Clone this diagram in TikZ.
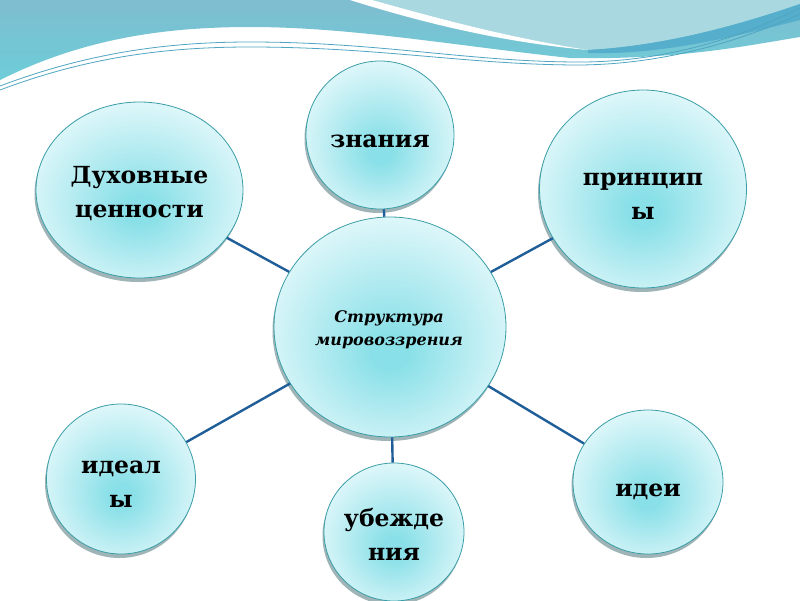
\documentclass[tikz,border=0pt]{standalone}
\usepackage{fontspec}
\setmainfont{DejaVu Serif}
\usetikzlibrary{shapes.geometric,shadows}
\definecolor{ballc}{HTML}{8AE0E8}
\definecolor{balle}{HTML}{E6F9FB}
\definecolor{ringc}{HTML}{3A9EA8}
\definecolor{linkc}{HTML}{1F5E98}
\definecolor{wavem}{HTML}{7FBDD0}
\definecolor{wavec}{HTML}{6CCDD8}
\definecolor{wavel}{HTML}{A9D8E0}
\definecolor{waved}{HTML}{55AECB}
\definecolor{wavelin}{HTML}{4FA5C2}
\definecolor{shadc}{HTML}{7F9CA0}
\pgfdeclareradialshading{ball}{\pgfpoint{0bp}{-6bp}}{color(0bp)=(ballc); color(4bp)=(ballc); color(30bp)=(balle); color(50bp)=(balle)}
\begin{document}
\begin{tikzpicture}[x=1pt,y=-1pt,
  bubble/.style={ellipse, draw=ringc, line width=0.8pt, shade, shading=ball, inner sep=0pt,
    drop shadow={shadow xshift=-1.5pt, shadow yshift=-4pt, fill=shadc, opacity=0.75}},
  lbl/.style={inner sep=0pt, align=center, text=black, font=\bfseries\fontsize{23.5}{34}\selectfont},
  clbl/.style={inner sep=0pt, align=center, text=black, font=\bfseries\itshape\fontsize{16}{23}\selectfont},
  link/.style={draw=linkc, line width=2.4pt}]
\useasboundingbox[fill=white] (0,0) rectangle (800,600);
% top wave
\shade[top color=wavem, bottom color=wavec] (0,0) -- (800,0) -- (800,37) .. controls (750,45) and (680,60) .. (570,58) .. controls (450,45) and (350,27) .. (250,27) .. controls (160,27) and (80,40) .. (0,80) -- cycle;
\fill[wavel] (372,0) -- (800,0) -- (800,4) .. controls (730,28) and (660,46) .. (588,50) .. controls (500,36) and (430,16) .. (372,0) -- cycle;
\fill[white] (350,0) -- (372,0) .. controls (430,16) and (500,36) .. (588,50) .. controls (500,42) and (420,22) .. (350,0) -- cycle;
\fill[waved] (588,50) .. controls (660,46) and (730,28) .. (800,4) -- (800,20) .. controls (730,38) and (660,55) .. (588,53) -- cycle;
\draw[wavelin, line width=0.8pt] (0,86) .. controls (90,52) and (170,42) .. (250,42) .. controls (380,42) and (470,62) .. (580,62) .. controls (680,62) and (760,28) .. (800,8);
\draw[wavelin, line width=0.8pt] (0,90) .. controls (90,56) and (170,47) .. (250,47) .. controls (380,47) and (470,65) .. (580,65) .. controls (680,64) and (760,32) .. (800,14);
% bubbles
\node[bubble, minimum width=232pt, minimum height=220pt] (c) at (390,327) {};
\node[bubble, minimum width=207pt, minimum height=176pt] (d) at (139.5,190) {};
\node[bubble, minimum width=148pt, minimum height=148pt] (z) at (380,135) {};
\node[bubble, minimum width=207pt, minimum height=198pt] (p) at (643,189) {};
\node[bubble, minimum width=149pt, minimum height=150pt] (i) at (121,479) {};
\node[bubble, minimum width=140pt, minimum height=138pt] (u) at (394,532) {};
\node[bubble, minimum width=150pt, minimum height=144pt] (e) at (648,482) {};
% labels
\node[clbl] (ct) at (389,330) {Структура\\мировоззрения};
\node[lbl] (dt) at (139.5,194) {Духовные\\ценности};
\node[lbl] (zt) at (380,141) {знания};
\node[lbl] (pt) at (643,196) {принцип\\ы};
\node[lbl] (it) at (121,484) {идеал\\ы};
\node[lbl] (ut) at (394,534) {убежде\\ния};
\node[lbl] (et) at (648,492) {идеи};
% connectors
\draw[link] (d) -- (c);
\draw[link] (z) -- (c);
\draw[link] (p) -- (c);
\draw[link] (i) -- (c);
\draw[link] (u) -- (c);
\draw[link] (e) -- (c);
\end{tikzpicture}
\end{document}
